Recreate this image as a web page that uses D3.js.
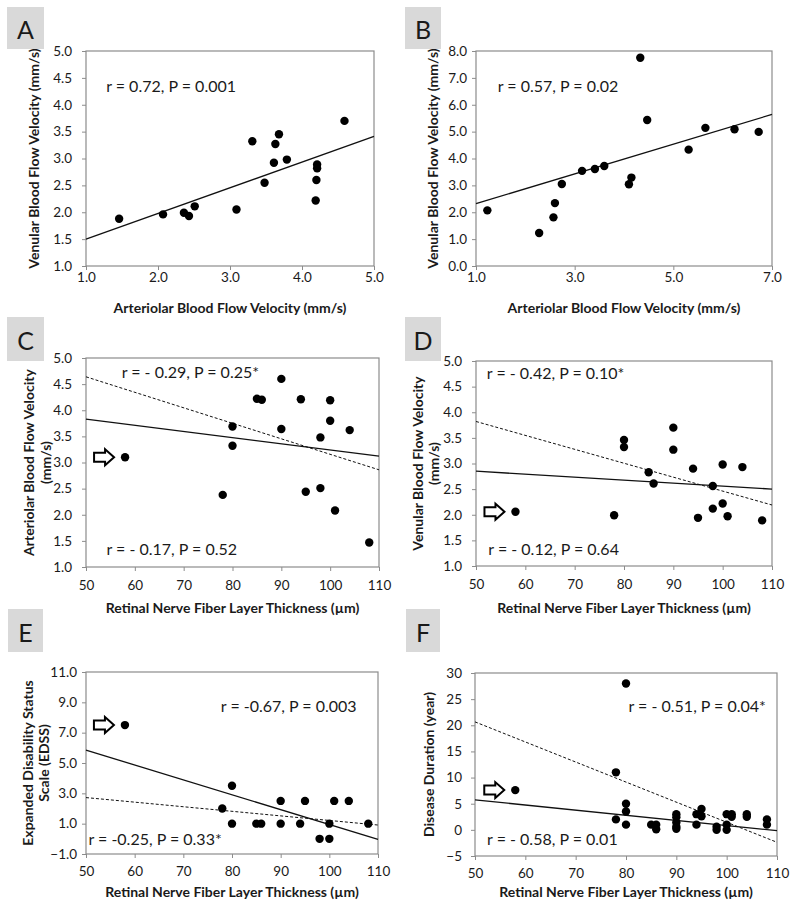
<!DOCTYPE html>
<html>
<head>
<meta charset="utf-8">
<script src="https://cdn.jsdelivr.net/npm/d3@7"></script>
<style>
  body { margin: 0; background: #fff; }
  svg { display: block; font-family: Lato, "Open Sans", sans-serif; }
</style>
</head>
<body>
<div id="chart"></div>
<script>
// A: arteriolar vs venular velocity
const aX = [1.46, 2.07, 2.36, 2.43, 2.51, 3.09, 3.31, 3.48, 3.61, 3.63, 3.68, 3.79, 4.21, 4.21, 4.20, 4.19, 4.59];
const aY = [1.88, 1.96, 1.99, 1.93, 2.11, 2.05, 3.32, 2.55, 2.92, 3.27, 3.45, 2.98, 2.89, 2.82, 2.60, 2.22, 3.70];
const aFit = [[1.0, 1.50], [5.0, 3.41]];

// B
const bX = [1.23, 2.28, 2.57, 2.60, 2.74, 3.15, 3.41, 3.60, 4.10, 4.15, 4.33, 4.47, 5.31, 5.65, 6.24, 6.73];
const bY = [2.07, 1.23, 1.81, 2.34, 3.05, 3.54, 3.61, 3.72, 3.04, 3.29, 7.75, 5.43, 4.33, 5.14, 5.09, 4.99];
const bFit = [[1.0, 2.32], [7.0, 5.64]];

// C: RNFL vs arteriolar velocity
const cX = [58, 78, 80, 80, 85, 86, 90, 90, 94, 95, 98, 98, 100, 100, 101, 104, 108];
const cY = [3.10, 2.38, 3.69, 3.32, 4.22, 4.20, 4.60, 3.64, 4.21, 2.44, 3.48, 2.51, 4.19, 3.80, 2.08, 3.62, 1.47];
const cFitSolid = [[50, 3.83], [110, 3.12]];
const cFitDashed = [[50, 4.64], [110, 2.86]];

// D: RNFL vs venular velocity
const dX = [58, 78, 80, 80, 85, 86, 90, 90, 94, 95, 98, 98, 100, 100, 101, 104, 108];
const dY = [2.06, 1.99, 3.46, 3.32, 2.83, 2.61, 3.70, 3.27, 2.90, 1.94, 2.56, 2.12, 2.98, 2.22, 1.97, 2.93, 1.89];
const dFitSolid = [[50, 2.85], [110, 2.50]];
const dFitDashed = [[50, 3.82], [110, 2.19]];

// E: RNFL vs EDSS
const eX = [58, 78, 80, 80, 85, 86, 90, 90, 94, 95, 98, 100, 100, 101, 104, 108];
const eY = [7.5, 2.0, 3.5, 1.0, 1.0, 1.0, 2.5, 1.0, 1.0, 2.5, 0.0, 0.0, 1.0, 2.5, 2.5, 1.0];
const eFitSolid = [[50, 5.85], [110, -0.04]];
const eFitDashed = [[50, 2.72], [110, 0.91]];

// F: RNFL vs disease duration
const fX = [58, 78, 78, 80, 80, 80, 80, 85, 86, 86, 90, 90, 90, 90, 90, 94, 94, 95, 95, 98, 98, 100, 100, 100, 101, 101, 104, 104, 108, 108];
const fY = [7.6, 11.0, 2.0, 28.0, 5.0, 3.5, 1.0, 1.0, 1.0, 0.1, 3.0, 2.4, 1.4, 0.6, 0.2, 3.0, 1.0, 4.0, 2.6, 0.6, 0.0, 3.0, 1.0, 0.0, 3.0, 2.5, 3.0, 2.5, 2.0, 1.0];
const fFitSolid = [[50, 5.73], [110, -0.15]];
const fFitDashed = [[50, 20.65], [110, -2.38]];

// tick values
const velTicks = [1.0, 1.5, 2.0, 2.5, 3.0, 3.5, 4.0, 4.5, 5.0];
const aXTicks = [1.0, 2.0, 3.0, 4.0, 5.0];
const bXTicks = [1.0, 3.0, 5.0, 7.0];
const bYTicks = [0, 1, 2, 3, 4, 5, 6, 7, 8];
const rnflTicks = [50, 60, 70, 80, 90, 100, 110];
const edssTicks = [-1, 1, 3, 5, 7, 9, 11];
const durTicks = [-5, 0, 5, 10, 15, 20, 25, 30];

const xTitleVel = "Arteriolar Blood Flow Velocity (mm/s)";
const xTitleRnfl = "Retinal Nerve Fiber Layer Thickness (\u00b5m)";

const panels = [
  { letter: "A", box: [7, 7, 37, 42], plot: [86, 374, 51, 266],
    xs: aX, ys: aY, xDom: [1, 5], yDom: [1, 5], xTicks: aXTicks, yTicks: velTicks,
    xFmt: ".1f", yFmt: ".1f", solid: aFit, dashed: null,
    xTitle: xTitleVel, xTitleY: 307, xLabelGap: 11, yLabelGap: 14,
    yTitle: ["Venular  Blood Flow Velocity (mm/s)"], yTitleX: [33],
    notes: [{ text: "r = 0.72, P = 0.001", x: 1.28, y: 4.35 }], arrow: null },
  { letter: "B", box: [405, 7, 36, 42], plot: [476, 772, 51, 266],
    xs: bX, ys: bY, xDom: [1, 7], yDom: [0, 8], xTicks: bXTicks, yTicks: bYTicks,
    xFmt: ".1f", yFmt: ".1f", solid: bFit, dashed: null,
    xTitle: xTitleVel, xTitleY: 307, xLabelGap: 11, yLabelGap: 9,
    yTitle: ["Venular  Blood Flow Velocity (mm/s)"], yTitleX: [432],
    notes: [{ text: "r = 0.57, P = 0.02", x: 1.44, y: 6.70 }], arrow: null },
  { letter: "C", box: [7, 317, 37, 44], plot: [86, 379, 358, 567],
    xs: cX, ys: cY, xDom: [50, 110], yDom: [1, 5], xTicks: rnflTicks, yTicks: velTicks,
    xFmt: "d", yFmt: ".1f", solid: cFitSolid, dashed: cFitDashed,
    xTitle: xTitleRnfl, xTitleY: 607, xLabelGap: 18, yLabelGap: 14,
    yTitle: ["Arteriolar Blood Flow Velocity", "(mm/s)"], yTitleX: [28, 45],
    notes: [{ text: "r = - 0.29, P = 0.25*", x: 57.3, y: 4.74 },
            { text: "r = - 0.17, P = 0.52", x: 54.2, y: 1.36 }], arrow: 0 },
  { letter: "D", box: [405, 317, 36, 44], plot: [476, 772, 361, 566],
    xs: dX, ys: dY, xDom: [50, 110], yDom: [1, 5], xTicks: rnflTicks, yTicks: velTicks,
    xFmt: "d", yFmt: ".1f", solid: dFitSolid, dashed: dFitDashed,
    xTitle: xTitleRnfl, xTitleY: 607, xLabelGap: 18, yLabelGap: 14,
    yTitle: ["Venular Blood Flow Velocity", "(mm/s)"], yTitleX: [417, 433],
    notes: [{ text: "r = - 0.42, P = 0.10*", x: 52.2, y: 4.77 },
            { text: "r = - 0.12, P = 0.64", x: 52.5, y: 1.35 }], arrow: 0 },
  { letter: "E", box: [8, 609, 35, 43], plot: [86, 378, 672, 854],
    xs: eX, ys: eY, xDom: [50, 110], yDom: [-1, 11], xTicks: rnflTicks, yTicks: edssTicks,
    xFmt: "d", yFmt: ".1f", solid: eFitSolid, dashed: eFitDashed,
    xTitle: xTitleRnfl, xTitleY: 891, xLabelGap: 17, yLabelGap: 9,
    yTitle: ["Expanded Disability Status", "Scale (EDSS)"], yTitleX: [27, 43],
    notes: [{ text: "r = -0.67, P = 0.003", x: 77.7, y: 8.76 },
            { text: "r = -0.25, P = 0.33*", x: 50.5, y: 0.03 }], arrow: 0 },
  { letter: "F", box: [406, 609, 34, 43], plot: [475, 777, 673, 856],
    xs: fX, ys: fY, xDom: [50, 110], yDom: [-5, 30], xTicks: rnflTicks, yTicks: durTicks,
    xFmt: "d", yFmt: "d", solid: fFitSolid, dashed: fFitDashed,
    xTitle: xTitleRnfl, xTitleY: 891, xLabelGap: 17, yLabelGap: 13,
    yTitle: ["Disease Duration (year)"], yTitleX: [428],
    notes: [{ text: "r = - 0.51, P = 0.04*", x: 80.5, y: 23.7 },
            { text: "r = - 0.58, P = 0.01", x: 52.4, y: -1.6 }], arrow: 0 }
];

const svg = d3.select("#chart").append("svg")
  .attr("width", 797)
  .attr("height", 906);

svg.append("rect").attr("width", 797).attr("height", 906).attr("fill", "#fff");

const axisColor = "#8c8c8c";
const textColor = "#1a1a1a";

function drawPanel(p) {
  const [left, right, top, bottom] = p.plot;
  const x = d3.scaleLinear().domain(p.xDom).range([left, right]);
  const y = d3.scaleLinear().domain(p.yDom).range([bottom, top]);
  const g = svg.append("g");

  // panel letter
  g.append("rect")
    .attr("x", p.box[0]).attr("y", p.box[1])
    .attr("width", p.box[2]).attr("height", p.box[3])
    .attr("fill", "#d9d9d9");
  g.append("text")
    .attr("x", p.box[0] + p.box[2] / 2)
    .attr("y", p.box[1] + p.box[3] / 2 + 1)
    .attr("text-anchor", "middle")
    .attr("dominant-baseline", "central")
    .attr("font-size", 25)
    .attr("fill", textColor)
    .text(p.letter);

  // axes
  const xAxis = g.append("g")
    .attr("transform", `translate(0,${bottom})`)
    .call(d3.axisBottom(x).tickValues(p.xTicks).tickFormat(d3.format(p.xFmt))
      .tickSizeInner(4).tickSizeOuter(0));
  const yAxis = g.append("g")
    .attr("transform", `translate(${left},0)`)
    .call(d3.axisLeft(y).tickValues(p.yTicks).tickFormat(d3.format(p.yFmt))
      .tickSizeInner(4).tickSizeOuter(0).tickPadding(p.yLabelGap - 4));

  [xAxis, yAxis].forEach(ax => {
    ax.select(".domain").remove();
    ax.selectAll("line").attr("stroke", axisColor);
    ax.selectAll("text")
      .attr("font-size", 13.5)
      .attr("font-family", "Lato, sans-serif")
      .attr("fill", textColor);
  });
  xAxis.selectAll("text").attr("dy", "0.35em").attr("y", p.xLabelGap);

  // plot frame
  g.append("rect")
    .attr("x", left).attr("y", top)
    .attr("width", right - left).attr("height", bottom - top)
    .attr("fill", "none")
    .attr("stroke", axisColor)
    .attr("stroke-width", 1.2);

  const line = d3.line().x(d => x(d[0])).y(d => y(d[1]));

  if (p.dashed) {
    g.append("path")
      .attr("d", line(p.dashed))
      .attr("fill", "none")
      .attr("stroke", "#111")
      .attr("stroke-width", 1)
      .attr("stroke-dasharray", "3,2");
  }
  g.append("path")
    .attr("d", line(p.solid))
    .attr("fill", "none")
    .attr("stroke", "#111")
    .attr("stroke-width", 1.3);

  const pts = p.xs.map((v, i) => [v, p.ys[i]]);
  g.selectAll("circle.pt")
    .data(pts)
    .join("circle")
    .attr("class", "pt")
    .attr("cx", d => x(d[0]))
    .attr("cy", d => y(d[1]))
    .attr("r", 4.2)
    .attr("fill", "#000");

  // outlier arrow
  if (p.arrow !== null) {
    const o = pts[p.arrow];
    const tx = x(o[0]) - 11;
    const cy = y(o[1]);
    const path = d3.path();
    path.moveTo(tx, cy);
    path.lineTo(tx - 9, cy - 8);
    path.lineTo(tx - 9, cy - 4.5);
    path.lineTo(tx - 20, cy - 4.5);
    path.lineTo(tx - 20, cy + 4.5);
    path.lineTo(tx - 9, cy + 4.5);
    path.lineTo(tx - 9, cy + 8);
    path.closePath();
    g.append("path")
      .attr("d", path.toString())
      .attr("fill", "#fff")
      .attr("stroke", "#000")
      .attr("stroke-width", 2)
      .attr("stroke-linejoin", "miter");
  }

  // correlation notes
  p.notes.forEach(n => {
    g.append("text")
      .attr("x", x(n.x))
      .attr("y", y(n.y))
      .attr("dominant-baseline", "central")
      .attr("font-size", 16)
      .attr("fill", textColor)
      .text(n.text);
  });

  // axis titles
  g.append("text")
    .attr("x", (left + right) / 2)
    .attr("y", p.xTitleY)
    .attr("text-anchor", "middle")
    .attr("dominant-baseline", "central")
    .attr("font-size", 14)
    .attr("font-weight", "bold")
    .attr("fill", textColor)
    .text(p.xTitle);

  p.yTitle.forEach((t, i) => {
    const tx = p.yTitleX[i];
    const ty = (top + bottom) / 2;
    g.append("text")
      .attr("transform", `translate(${tx},${ty}) rotate(-90)`)
      .attr("text-anchor", "middle")
      .attr("dominant-baseline", "central")
      .attr("font-size", 14)
      .attr("font-weight", "bold")
      .attr("fill", textColor)
      .text(t);
  });
}

panels.forEach(drawPanel);
</script>
</body>
</html>
